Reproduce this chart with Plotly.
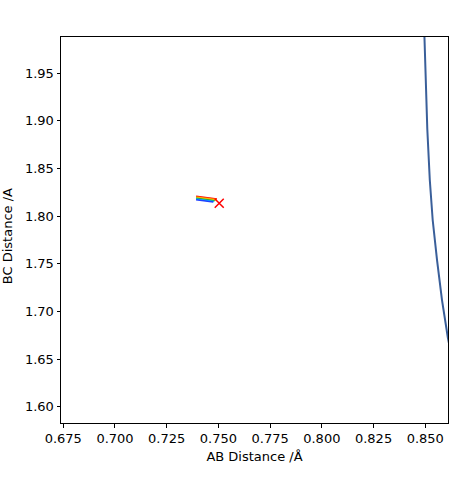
import plotly.graph_objects as go

# Contour line (blue)
contour_ab = [0.8493, 0.8496, 0.8500, 0.8510, 0.8522, 0.8536, 0.8557, 0.8581, 0.8609, 0.8630]
contour_bc = [2.010, 1.988, 1.943, 1.891, 1.838, 1.796, 1.754, 1.712, 1.673, 1.650]

# Trajectory lines (stacked rainbow)
traj_colors = ["#ff0000", "#ff8c00", "#ffd700", "#2ca02c", "#00bfff", "#1f3fff"]
traj_ab = [
    [0.7392, 0.7440, 0.7493],
    [0.7392, 0.7440, 0.7490],
    [0.7392, 0.7440, 0.7486],
    [0.7392, 0.7440, 0.7482],
    [0.7392, 0.7440, 0.7478],
    [0.7392, 0.7440, 0.7475],
]
traj_bc = [
    [1.8208, 1.8198, 1.8180],
    [1.8201, 1.8191, 1.8174],
    [1.8194, 1.8184, 1.8168],
    [1.8187, 1.8176, 1.8161],
    [1.8180, 1.8169, 1.8155],
    [1.8173, 1.8162, 1.8149],
]

end_ab = [0.7504]
end_bc = [1.8136]

x_ticks = [0.675, 0.700, 0.725, 0.750, 0.775, 0.800, 0.825, 0.850]
y_ticks = [1.60, 1.65, 1.70, 1.75, 1.80, 1.85, 1.90, 1.95]

fig = go.Figure()
fig.add_trace(go.Scatter(x=contour_ab, y=contour_bc, mode="lines",
                         line=dict(color="#3a5f9a", width=2), showlegend=False))
for xs, ys, c in zip(traj_ab, traj_bc, traj_colors):
    fig.add_trace(go.Scatter(x=xs, y=ys, mode="lines",
                             line=dict(color=c, width=1.5), showlegend=False))
fig.add_trace(go.Scatter(x=end_ab, y=end_bc, mode="markers",
                         marker=dict(symbol="x-thin", size=9, color="red",
                                     line=dict(color="red", width=1.5)),
                         showlegend=False))

font = dict(family="DejaVu Sans", size=13, color="black")
axis_common = dict(showline=True, linecolor="black", linewidth=1, mirror=True,
                   ticks="outside", ticklen=3.5, tickwidth=1, tickcolor="black",
                   showgrid=False, zeroline=False, tickfont=font)

fig.update_layout(
    width=476, height=477,
    margin=dict(l=61, r=28, t=37, b=54),
    paper_bgcolor="white", plot_bgcolor="white",
    font=font,
    xaxis=dict(range=[0.6739, 0.8610], tickvals=x_ticks,
               ticktext=[f"{v:.3f}" for v in x_ticks],
               title=dict(text="AB Distance /Å", font=font, standoff=6),
               **axis_common),
    yaxis=dict(range=[1.583, 1.988], tickvals=y_ticks,
               ticktext=[f"{v:.2f}" for v in y_ticks],
               **axis_common),
    annotations=[dict(text="BC Distance /A", xref="paper", yref="paper",
                      x=0, y=0.484, xanchor="center", yanchor="middle",
                      xshift=-54, textangle=-90, showarrow=False, font=font)],
)

fig.write_html("out.html", config={"displayModeBar": False},
               post_script="document.body.style.margin='0';")
